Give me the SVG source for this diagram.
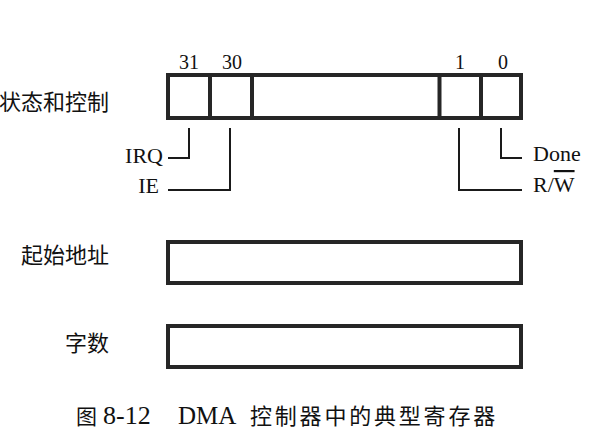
<svg xmlns="http://www.w3.org/2000/svg" width="602" height="436" viewBox="0 0 602 436">
<style>
.reg{fill:none;stroke:#262626;stroke-width:4}
.div{stroke:#262626;stroke-width:4}
.con{fill:none;stroke:#1a1a1a;stroke-width:2}
.lat{font-family:"Liberation Serif","Times New Roman",serif;fill:#111}
.cjk{font-family:"Noto Sans CJK SC","Liberation Serif",sans-serif;fill:#111;font-size:22px}
</style>
<rect width="602" height="436" fill="#fff"/>
<g id="status">
<rect class="reg" x="168" y="75" width="353" height="43"/>
<line class="div" x1="210" y1="75" x2="210" y2="118"/>
<line class="div" x1="252" y1="75" x2="252" y2="118"/>
<line class="div" x1="439.5" y1="75" x2="439.5" y2="118"/>
<line class="div" x1="481" y1="75" x2="481" y2="118"/>
<text class="cjk" x="109" y="110" text-anchor="end">状态和控制</text>
<text class="lat" font-size="20" x="189" y="69" text-anchor="middle">31</text>
<text class="lat" font-size="20" x="232" y="69" text-anchor="middle">30</text>
<text class="lat" font-size="20" x="460" y="69" text-anchor="middle">1</text>
<text class="lat" font-size="20" x="503" y="69" text-anchor="middle">0</text>
</g>
<g id="start-address">
<rect class="reg" x="168" y="242" width="353" height="41"/>
<text class="cjk" x="109" y="263" text-anchor="end">起始地址</text>
</g>
<g id="word-count">
<rect class="reg" x="168" y="326" width="353" height="41"/>
<text class="cjk" x="109" y="351" text-anchor="end">字数</text>
</g>
<g id="connectors">
<polyline class="con" points="189,128 189,158 168,158"/>
<polyline class="con" points="230,128 230,190 168,190"/>
<polyline class="con" points="501,128 501,158 522,158"/>
<polyline class="con" points="459,128 459,190 522,190"/>
</g>
<g id="labels">
<text class="lat" font-size="22" x="163" y="163" text-anchor="end">IRQ</text>
<text class="lat" font-size="22" x="159" y="193" text-anchor="end">IE</text>
<text class="lat" font-size="22" x="533" y="161">Done</text>
<text class="lat" font-size="22" x="533" y="192">R/<tspan style="text-decoration:overline">W</tspan></text>
</g>
<g id="caption">
<text class="cjk" x="76" y="424" style="font-size:21px">图 <tspan class="lat" x="103" style="font-size:26px">8-12</tspan></text>
<text class="lat" font-size="25" x="178" y="424">DMA <tspan class="cjk" x="250" letter-spacing="2.8">控制器中的典型寄存器</tspan></text>
</g>
</svg>
